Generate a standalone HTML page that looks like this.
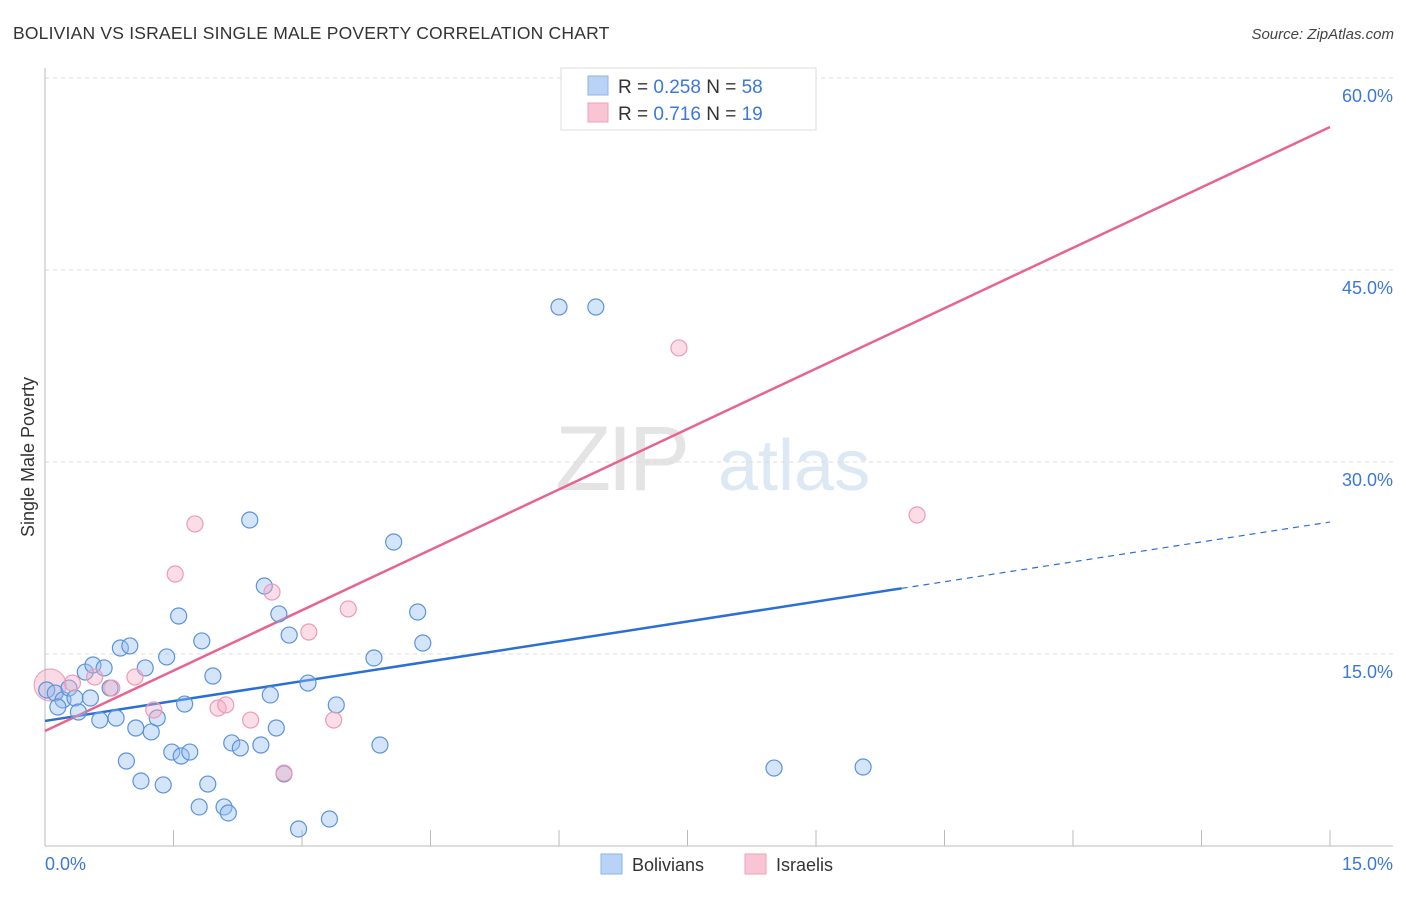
<!DOCTYPE html>
<html><head><meta charset="utf-8"><style>
body{margin:0;background:#fff;font-family:"Liberation Sans",sans-serif;}
svg text{font-family:"Liberation Sans",sans-serif;}
</style></head><body>
<svg id="chart" width="1406" height="892" xmlns="http://www.w3.org/2000/svg">
<text x="13" y="39" font-size="17.5" fill="#333" letter-spacing="0.2">BOLIVIAN VS ISRAELI SINGLE MALE POVERTY CORRELATION CHART</text>
<text x="1394" y="39" font-size="15" fill="#444" text-anchor="end" font-style="italic">Source: ZipAtlas.com</text>
<g>
<text x="555" y="490" font-size="92" fill="#e4e4e4" font-family="Liberation Serif" letter-spacing="-4">ZIP</text>
<text x="718" y="490" font-size="72" fill="#dde8f5">atlas</text>
</g>
<g id="grid"></g>
<g id="axes"></g>
<g id="lines"></g>
<g id="points"></g>
<text transform="translate(34,457) rotate(-90)" font-size="18" fill="#333" text-anchor="middle">Single Male Poverty</text>
<g>
<rect x="561" y="68" width="255" height="62" fill="#fff" stroke="#ddd"/>
<rect x="588" y="76" width="20" height="19" fill="#b8d3f5" stroke="#8ab4ea"/>
<rect x="588" y="103" width="20" height="19" fill="#f9c5d5" stroke="#f0a0b8"/>
<text x="618" y="93" font-size="19" fill="#333">R = <tspan fill="#3b78d8">0.258</tspan>   N = <tspan fill="#3b78d8">58</tspan></text>
<text x="618" y="120" font-size="19" fill="#333">R =  <tspan fill="#3b78d8">0.716</tspan>   N =  <tspan fill="#3b78d8">19</tspan></text>
</g>
<g>
<rect x="601" y="854" width="21" height="20" fill="#b8d3f5" stroke="#8ab4ea"/>
<text x="632" y="871" font-size="18" fill="#333">Bolivians</text>
<rect x="745" y="854" width="21" height="20" fill="#f9c5d5" stroke="#f0a0b8"/>
<text x="776" y="871" font-size="18" fill="#333">Israelis</text>
</g>
</svg>
<script>
const bolX=[0.02,0.12,0.21,0.15,0.28,0.35,0.39,0.47,0.53,0.56,0.64,0.69,0.76,0.83,0.88,0.95,0.99,1.06,1.12,1.17,1.24,1.31,1.38,1.42,1.48,1.56,1.59,1.63,1.69,1.80,1.83,1.90,1.96,2.09,2.14,2.18,2.28,2.39,2.52,2.56,2.63,2.70,2.73,2.79,2.85,2.96,3.07,3.32,3.40,3.84,3.91,4.07,4.35,4.41,6.00,6.43,8.51,9.55];
const bolY=[12.19,11.95,11.41,10.86,12.34,11.56,10.47,13.59,11.56,14.14,9.84,13.91,12.34,10.0,15.47,6.64,15.63,9.22,5.08,13.91,8.91,10.0,4.77,14.77,7.34,17.97,7.03,11.09,7.34,3.05,16.02,4.84,13.28,3.05,2.58,8.05,7.66,25.47,7.89,20.31,11.80,9.22,18.13,5.63,16.48,1.33,12.73,2.11,11.02,14.69,7.89,23.75,18.28,15.86,42.11,42.11,6.09,6.17];
const isrX=[0.32,0.58,0.78,1.05,1.27,1.52,1.75,2.02,2.11,2.40,2.65,2.79,3.08,3.37,3.54,7.40,10.18,8.26];
const isrY=[12.73,13.20,12.34,13.20,10.63,21.25,25.16,10.78,11.02,9.84,19.84,5.70,16.72,9.84,18.52,38.91,25.86,57.11];
const bigIsrX=[0.06];
const bigIsrY=[12.58];
const blueTrend=[9.77,25.31];   // y at x=0 and x=15
const blueSolidEnd=[10.0];      // x where solid ends
const pinkTrend=[8.98,56.17];
const yTicks=[15,30,45,60];
const yTickLabels=["15.0%","30.0%","45.0%","60.0%"];
const xTickCount=[10];

const NS="http://www.w3.org/2000/svg";
const X=v=>45+v/15*1285;
const Y=v=>846-v/15*192;
function mk(tag,attrs,parent){const e=document.createElementNS(NS,tag);for(const k in attrs)e.setAttribute(k,attrs[k]);document.getElementById(parent).appendChild(e);return e;}

yTicks.forEach((t,i)=>{
  const g=mk('line',{x1:45,x2:1393,y1:Y(t),y2:Y(t),stroke:'#ddd','stroke-dasharray':'4,4'},'grid');
  
  
  const tx=mk('text',{x:1393,y:Y(t)+24,'font-size':18,fill:'#3b78d8','text-anchor':'end'},'axes');
  tx.textContent=yTickLabels[i];
  
  
});
const ax=mk('line',{x1:45,x2:1393,y1:846,y2:846,stroke:'#bbb'},'axes');


const ay=mk('line',{x1:45,x2:45,y1:68,y2:846,stroke:'#bbb'},'axes');


for(let i=1;i<=xTickCount[0];i++){
  const xv=15*i/xTickCount[0];
  const tk=mk('line',{x1:X(xv),x2:X(xv),y1:830,y2:846,stroke:'#bbb'},'axes');
  
  
}
const xl0=mk('text',{x:45,y:870,'font-size':18,fill:'#3b78d8'},'axes');xl0.textContent='0.0%';


const xl1=mk('text',{x:1393,y:870,'font-size':18,fill:'#3b78d8','text-anchor':'end'},'axes');xl1.textContent='15.0%';



function pt(x,y,r,fill,stroke,name){
  const c=mk('circle',{cx:X(x),cy:Y(y),r:r,fill:fill,stroke:stroke,'stroke-width':1.2},'points');
  
  
}
bigIsrX.forEach((x,i)=>pt(x,bigIsrY[i],16,'rgba(240,150,180,0.35)','rgba(230,120,160,0.6)','israeli-point'));
bolX.forEach((x,i)=>pt(x,bolY[i],8,'rgba(150,190,240,0.4)','#5b93dc','bolivian-point'));
isrX.forEach((x,i)=>pt(x,isrY[i],8,'rgba(245,170,195,0.4)','#ee9ab5','israeli-point'));

const bAt=x=>blueTrend[0]+(blueTrend[1]-blueTrend[0])*x/15;
const pAt=x=>pinkTrend[0]+(pinkTrend[1]-pinkTrend[0])*x/15;
const l1=mk('line',{x1:X(0),y1:Y(bAt(0)),x2:X(blueSolidEnd[0]),y2:Y(bAt(blueSolidEnd[0])),stroke:'#2a6fd6','stroke-width':2.5},'lines');


const l2=mk('line',{x1:X(blueSolidEnd[0]),y1:Y(bAt(blueSolidEnd[0])),x2:X(15),y2:Y(bAt(15)),stroke:'#2a6fd6','stroke-width':1.2,'stroke-dasharray':'6,5'},'lines');


const l3=mk('line',{x1:X(0),y1:Y(pAt(0)),x2:X(15),y2:Y(pAt(15)),stroke:'#e8648e','stroke-width':2.5},'lines');


</script>
</body></html>
